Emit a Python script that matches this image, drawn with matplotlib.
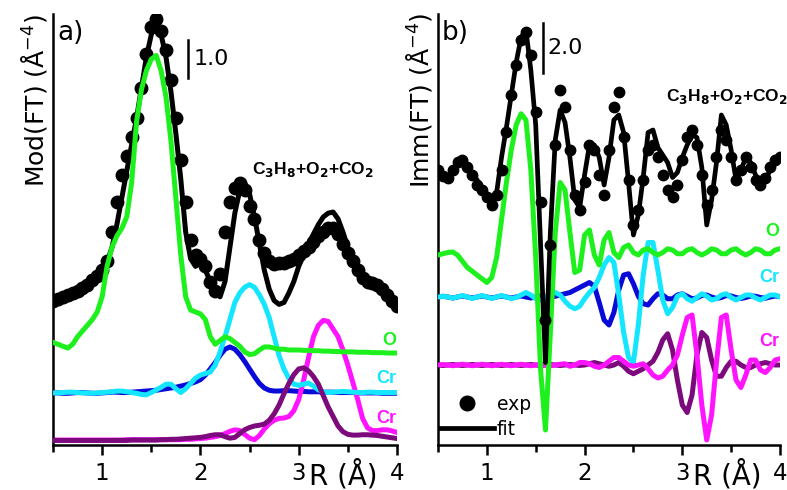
import numpy as np
import matplotlib
matplotlib.use('Agg')
import matplotlib.pyplot as plt
from matplotlib.ticker import MultipleLocator

# R grid (Å), 0.5 ... 4.0 in steps of 0.05
r = np.linspace(0.5, 4.0, 71)

# ---- panel a: Mod(FT) ----
a_exp = [3.80, 3.85, 3.90, 3.95, 4.00, 4.05, 4.12, 4.22, 4.35, 4.45, 4.60,
         4.85, 5.60, 6.40, 7.10, 7.60, 8.10, 8.60, 9.40, 10.30, 11.00,
         11.20, 10.90, 10.40, 9.60, 8.60, 7.50, 6.40, 5.40, 5.00, 4.90,
         4.70, 4.30, 4.05, 4.50, 5.60, 6.40, 6.75, 6.90, 6.70, 6.30,
         5.95, 5.40, 5.05, 4.85, 4.75, 4.80, 4.80, 4.85, 4.90, 5.00,
         5.10, 5.20, 5.35, 5.50, 5.60, 5.70, 5.70, 5.55, 5.30, 5.05,
         4.85, 4.60, 4.40, 4.30, 4.25, 4.20, 4.10, 3.95, 3.80, 3.65]
a_fit = [3.65, 3.75, 3.85, 3.90, 3.95, 4.00, 4.05, 4.15, 4.30, 4.45, 4.60,
         4.80, 5.20, 5.80, 6.50, 7.20, 7.90, 8.60, 9.40, 10.20, 10.80,
         11.05, 10.80, 10.20, 9.30, 8.20, 7.00, 5.60, 4.90, 4.70, 4.80,
         4.60, 4.30, 4.00, 3.90, 4.30, 5.20, 6.10, 6.70, 6.90, 6.60,
         6.00, 5.30, 4.60, 4.10, 3.80, 3.70, 3.75, 4.00, 4.30, 4.70,
         5.00, 5.30, 5.55, 5.80, 6.00, 6.10, 6.13, 5.95, 5.60, 5.20,
         4.85, 4.60, 4.45, 4.35, 4.30, 4.20, 4.10, 3.95, 3.80, 3.65]
a_o = [2.70, 2.65, 2.60, 2.55, 2.65, 2.85, 3.00, 3.15, 3.30, 3.50, 3.90,
       4.70, 5.20, 5.50, 5.70, 6.00, 6.90, 8.50, 9.35, 9.85, 10.15,
       10.25, 9.85, 9.15, 8.00, 6.50, 5.00, 3.90, 3.55, 3.50, 3.45,
       3.30, 2.85, 2.65, 2.75, 2.85, 2.80, 2.70, 2.60, 2.45, 2.38,
       2.40, 2.50, 2.58, 2.58, 2.55, 2.52, 2.52, 2.50, 2.50, 2.50,
       2.49, 2.49, 2.48, 2.48, 2.47, 2.47, 2.46, 2.46, 2.45, 2.45,
       2.45, 2.44, 2.44, 2.44, 2.43, 2.43, 2.43, 2.42, 2.42, 2.42]
a_cr1 = [1.37, 1.37, 1.36, 1.36, 1.37, 1.38, 1.38, 1.37, 1.36, 1.36, 1.37,
         1.38, 1.39, 1.39, 1.38, 1.38, 1.39, 1.40, 1.41, 1.42, 1.43,
         1.44, 1.46, 1.48, 1.50, 1.52, 1.55, 1.58, 1.62, 1.66, 1.72,
         1.84, 2.00, 2.17, 2.36, 2.52, 2.58, 2.52, 2.38, 2.20, 2.00,
         1.80, 1.62, 1.50, 1.44, 1.42, 1.42, 1.43, 1.43, 1.42, 1.41,
         1.41, 1.40, 1.40, 1.40, 1.39, 1.39, 1.39, 1.38, 1.38, 1.38,
         1.38, 1.37, 1.37, 1.37, 1.37, 1.37, 1.36, 1.36, 1.36, 1.36]
a_cr2 = [1.37, 1.37, 1.38, 1.39, 1.39, 1.38, 1.37, 1.37, 1.36, 1.37, 1.38,
         1.39, 1.40, 1.42, 1.42, 1.40, 1.38, 1.36, 1.33, 1.32, 1.38,
         1.45, 1.52, 1.60, 1.60, 1.48, 1.38, 1.48, 1.62, 1.76, 1.84,
         1.88, 1.92, 2.10, 2.45, 2.85, 3.30, 3.75, 4.00, 4.15, 4.22,
         4.15, 3.95, 3.70, 3.35, 2.85, 2.35, 2.00, 1.75, 1.60, 1.57,
         1.60, 1.63, 1.55, 1.45, 1.40, 1.38, 1.39, 1.40, 1.41, 1.40,
         1.39, 1.38, 1.38, 1.39, 1.39, 1.38, 1.38, 1.38, 1.38, 1.38]
a_cr3 = [0.13, 0.13, 0.13, 0.13, 0.13, 0.13, 0.13, 0.13, 0.13, 0.13, 0.13,
         0.13, 0.13, 0.13, 0.13, 0.14, 0.14, 0.14, 0.14, 0.14, 0.14,
         0.14, 0.14, 0.14, 0.14, 0.14, 0.14, 0.15, 0.15, 0.16, 0.17,
         0.18, 0.20, 0.22, 0.25, 0.30, 0.36, 0.40, 0.38, 0.28, 0.18,
         0.14, 0.25, 0.42, 0.56, 0.65, 0.70, 0.71, 0.75, 0.90, 1.20,
         1.70, 2.30, 2.85, 3.15, 3.28, 3.25, 3.05, 2.85, 2.50, 2.10,
         1.65, 1.20, 0.70, 0.45, 0.38, 0.38, 0.40, 0.40, 0.37, 0.33]
a_cr4 = [0.12, 0.12, 0.12, 0.12, 0.12, 0.12, 0.12, 0.12, 0.12, 0.12, 0.12,
         0.12, 0.12, 0.12, 0.12, 0.12, 0.13, 0.13, 0.13, 0.13, 0.13,
         0.13, 0.14, 0.14, 0.15, 0.15, 0.16, 0.17, 0.18, 0.19, 0.20,
         0.22, 0.25, 0.27, 0.27, 0.22, 0.18, 0.20, 0.30, 0.40, 0.46,
         0.50, 0.52, 0.55, 0.65, 0.82, 1.05, 1.35, 1.62, 1.85, 2.00,
         2.03, 1.95, 1.80, 1.60, 1.30, 1.00, 0.75, 0.50, 0.35, 0.28,
         0.26, 0.26, 0.27, 0.27, 0.26, 0.25, 0.23, 0.21, 0.19, 0.17]

# ---- panel b: Imm(FT) ----
b_exp = [11.0, 10.75, 10.7, 11.0, 11.3, 11.4, 11.1, 10.8, 10.4, 10.2, 9.9,
         9.6, 10.0, 11.0, 12.5, 14.0, 15.2, 16.2, 16.5, 15.6, 13.3,
         9.7, 5.0, 8.0, 12.0, 14.2, 13.5, 11.8, 10.0, 9.4, 10.5,
         12.0, 11.8, 10.8, 10.0, 11.8, 13.5, 14.1, 12.3, 10.6, 8.8,
         9.4, 10.6, 11.8, 12.0, 11.5, 10.8, 10.2, 9.9, 10.4, 11.4,
         12.3, 12.6, 12.0, 10.8, 9.6, 10.2, 11.5, 12.6, 12.2, 11.5,
         10.6, 11.0, 11.5, 11.1, 10.6, 10.4, 10.7, 11.1, 11.4, 11.5]
b_fit = [11.0, 10.8, 10.7, 10.9, 11.2, 11.4, 11.2, 10.9, 10.6, 10.3, 10.0,
         9.8, 10.1, 11.5, 12.7, 14.0, 15.3, 16.3, 16.6, 15.0, 12.8,
         8.0, 3.3, 8.5, 12.2, 13.4, 12.9, 11.5, 9.8, 9.5, 10.8,
         12.0, 12.0, 11.5, 10.4, 11.5, 13.0, 13.2, 12.5, 10.5, 8.4,
         9.2, 10.7, 12.5, 12.6, 11.9, 11.6, 11.3, 10.7, 10.9, 11.5,
         12.0, 12.4, 12.3, 11.1, 8.8, 9.8, 11.3, 13.2, 12.8, 11.8,
         10.6, 11.0, 11.5, 11.3, 10.8, 10.5, 10.6, 11.0, 11.3, 11.4]
b_o = [7.6, 7.65, 7.7, 7.72, 7.6, 7.35, 7.1, 6.95, 6.8, 6.65, 6.5,
       6.7, 7.5, 9.0, 10.5, 11.8, 12.8, 13.25, 13.0, 11.0, 7.5,
       3.0, 0.6, 4.5, 8.5, 10.5, 10.2, 8.5, 6.9, 7.0, 8.4,
       8.6, 7.6, 7.2, 8.2, 8.5, 7.7, 7.5, 7.9, 8.0, 7.7,
       7.6, 7.8, 7.85, 7.7, 7.6, 7.7, 7.85, 7.8, 7.65, 7.65,
       7.8, 7.85, 7.7, 7.6, 7.7, 7.85, 7.8, 7.65, 7.65, 7.8,
       7.85, 7.7, 7.6, 7.7, 7.85, 7.8, 7.65, 7.65, 7.8, 7.85]
b_cr1 = [5.92, 5.95, 5.92, 5.88, 5.92, 5.96, 5.92, 5.88, 5.92, 5.96, 5.92,
         5.88, 5.92, 5.96, 5.92, 5.88, 5.92, 5.96, 5.92, 5.88, 5.92,
         5.96, 5.92, 5.90, 5.95, 6.00, 6.05, 6.10, 6.20, 6.30, 6.40,
         6.50, 6.35, 5.70, 5.00, 4.80, 5.30, 6.20, 6.80, 6.85, 6.45,
         5.95, 5.65, 5.60, 5.85, 6.05, 6.00, 5.85, 5.85, 6.00, 6.05,
         5.95, 5.85, 5.88, 5.98, 6.00, 5.92, 5.86, 5.90, 5.98, 5.96,
         5.90, 5.86, 5.90, 5.96, 5.95, 5.90, 5.87, 5.92, 5.96, 5.94]
b_cr2 = [5.92, 5.95, 5.92, 5.88, 5.92, 5.98, 5.92, 5.86, 5.92, 5.98, 5.92,
         5.86, 5.92, 5.98, 5.92, 5.86, 5.90, 6.00, 6.10, 6.00, 5.85,
         5.80, 5.90, 6.05, 6.10, 6.00, 5.75, 5.55, 5.45, 5.55, 5.85,
         6.10, 6.30, 6.70, 7.20, 7.50, 7.30, 6.00, 4.50, 3.50, 3.30,
         4.80, 6.80, 8.10, 8.10, 7.00, 5.80, 5.25, 5.50, 5.95, 6.05,
         5.85, 5.75, 5.90, 6.05, 5.95, 5.80, 5.85, 6.00, 6.05, 5.90,
         5.80, 5.90, 6.00, 6.00, 5.88, 5.80, 5.90, 6.00, 6.00, 5.92]
b_cr3 = [3.20, 3.22, 3.20, 3.17, 3.20, 3.23, 3.20, 3.17, 3.20, 3.23, 3.20,
         3.17, 3.20, 3.23, 3.20, 3.17, 3.20, 3.23, 3.20, 3.17, 3.20,
         3.23, 3.20, 3.17, 3.20, 3.23, 3.25, 3.15, 3.20, 3.30, 3.30,
         3.25, 3.15, 3.10, 3.20, 3.35, 3.50, 3.50, 3.35, 3.20, 3.15,
         3.20, 3.25, 3.05, 2.80, 2.68, 2.75, 3.00, 3.20, 3.60, 4.40,
         5.10, 5.20, 3.60, 1.60, 0.20, 1.20, 3.30, 5.10, 5.20, 3.80,
         2.60, 2.30, 2.80, 3.40, 3.40, 3.00, 2.90, 3.10, 3.40, 3.45]
b_cr4 = [3.20, 3.18, 3.20, 3.22, 3.20, 3.18, 3.20, 3.22, 3.20, 3.18, 3.20,
         3.22, 3.20, 3.18, 3.20, 3.22, 3.20, 3.18, 3.20, 3.22, 3.20,
         3.18, 3.20, 3.22, 3.20, 3.18, 3.20, 3.22, 3.20, 3.18, 3.20,
         3.25, 3.30, 3.25, 3.20, 3.15, 3.20, 3.30, 3.15, 2.95, 2.85,
         2.95, 3.05, 3.20, 3.35, 3.70, 4.20, 4.45, 3.80, 2.60, 1.60,
         1.30, 2.00, 3.60, 4.50, 4.30, 3.40, 2.75, 2.75, 3.10, 3.35,
         3.35, 3.20, 3.10, 3.10, 3.20, 3.25, 3.30, 3.25, 3.20, 3.20]

GREEN = '#1ef01e'
BLUE = '#0a0ad8'
CYAN = '#14e6ff'
MAGENTA = '#ff14ff'
PURPLE = '#7d0a7d'
LW = 3.6

fig = plt.figure(figsize=(7.87, 4.9), dpi=100)
ax_a = fig.add_axes([53 / 787, 45 / 490, 344 / 787, 431 / 490])
ax_b = fig.add_axes([438 / 787, 45 / 490, 342 / 787, 431 / 490])


def style(ax, ylabel, letter):
    ax.set_xlim(0.5, 4.0)
    for s in ['top', 'right']:
        ax.spines[s].set_visible(False)
    for s in ['left', 'bottom']:
        ax.spines[s].set_linewidth(1.8)
    ax.set_yticks([])
    ax.xaxis.set_major_locator(MultipleLocator(1))
    ax.xaxis.set_minor_locator(MultipleLocator(0.5))
    ax.tick_params(axis='x', which='major', direction='out', length=7,
                   width=1.8, labelsize=16.5, pad=5)
    ax.tick_params(axis='x', which='minor', direction='out', length=5,
                   width=1.8)
    ax.text(0.845, -0.092, 'R (Å)', transform=ax.transAxes, fontsize=20,
            ha='center', va='baseline')
    ax.text(-0.055, 0.80, ylabel, transform=ax.transAxes, fontsize=18,
            rotation=90, ha='center', va='center')
    ax.text(0.012, 0.985, letter, transform=ax.transAxes, fontsize=19,
            ha='left', va='top')


lbl_font = dict(family='Liberation Sans', fontweight='bold')
gas = r'C$_\mathbf{3}$H$_\mathbf{8}$+O$_\mathbf{2}$+CO$_\mathbf{2}$'

# panel a
ax = ax_a
ax.set_ylim(0, 11.34)
ax.plot(r, a_cr1, color=BLUE, lw=LW, zorder=2)
ax.plot(r, a_cr2, color=CYAN, lw=LW, zorder=3)
ax.plot(r, a_cr4, color=PURPLE, lw=LW, zorder=3)
ax.plot(r, a_cr3, color=MAGENTA, lw=LW, zorder=2)
ax.plot(r, a_fit, color='black', lw=3.6, zorder=4)
ax.plot(r, a_exp, 'o', color='black', ms=9, zorder=5)
ax.plot(r, a_o, color=GREEN, lw=LW, zorder=6)
style(ax, 'Mod(FT) (Å$^{-4}$)', 'a)')
ax.plot([1.876, 1.876], [9.66, 10.66], color='black', lw=1.8)
ax.text(1.93, 10.16, '1.0', fontsize=16, va='center', ha='left')
ax.text(3.14, 7.24, gas, fontsize=12.5, ha='center', va='center', **lbl_font)
ax.text(3.99, 2.74, 'O', color=GREEN, fontsize=13, ha='right', va='center', **lbl_font)
ax.text(3.99, 1.74, 'Cr', color=CYAN, fontsize=13, ha='right', va='center', **lbl_font)
ax.text(3.99, 0.71, 'Cr', color=MAGENTA, fontsize=13, ha='right', va='center', **lbl_font)

# panel b
ax = ax_b
ax.set_ylim(0, 17.24)
ax.plot(r, b_cr1, color=BLUE, lw=LW, zorder=2)
ax.plot(r, b_cr2, color=CYAN, lw=LW, zorder=3)
ax.plot(r, b_cr4, color=PURPLE, lw=LW, zorder=2)
ax.plot(r, b_cr3, color=MAGENTA, lw=LW, zorder=3)
ax.plot(r, b_o, color=GREEN, lw=LW, zorder=4)
ax.plot(r, b_exp, 'o', color='black', ms=7.5, zorder=6, label='exp')
ax.plot(r, b_fit, color='black', lw=3.4, zorder=5, label='fit')
style(ax, 'Imm(FT) (Å$^{-4}$)', 'b)')
ax.plot([1.573, 1.573], [14.88, 16.88], color='black', lw=1.8)
ax.text(1.62, 15.9, '2.0', fontsize=16, va='center', ha='left')
ax.text(3.46, 13.92, gas, fontsize=12.5, ha='center', va='center', **lbl_font)
ax.text(3.99, 8.56, 'O', color=GREEN, fontsize=13, ha='right', va='center', **lbl_font)
ax.text(3.99, 6.72, 'Cr', color=CYAN, fontsize=13, ha='right', va='center', **lbl_font)
ax.text(3.99, 4.16, 'Cr', color=MAGENTA, fontsize=13, ha='right', va='center', **lbl_font)
ax.legend(loc='lower left', bbox_to_anchor=(0.005, 0.015), frameon=False,
          fontsize=13.5, handlelength=2.9, handletextpad=0.15,
          labelspacing=0.3, borderpad=0, borderaxespad=0, markerscale=1.4,
          numpoints=1)

fig.savefig('out.png', dpi=100)
